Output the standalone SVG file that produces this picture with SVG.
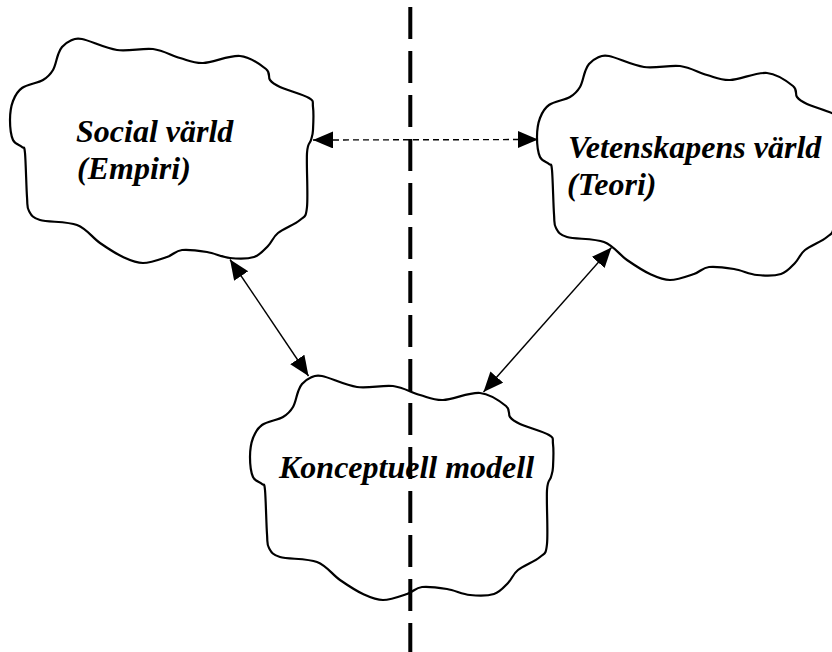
<svg xmlns="http://www.w3.org/2000/svg" xmlns:xlink="http://www.w3.org/1999/xlink" width="832" height="652" viewBox="0 0 832 652">
  <style>
    .cloud { fill: #ffffff; stroke: #000000; stroke-width: 2.2; stroke-linejoin: round; }
    .label { font-family: "Liberation Serif", "Times New Roman", serif; font-size: 32px; font-weight: bold; font-style: italic; fill: #000000; }
    .link { stroke: #000000; stroke-width: 1.4; fill: none; }
    .dashed { stroke-dasharray: 6 4; }
    .divider { stroke: #000000; stroke-width: 4; stroke-dasharray: 32 12; fill: none; }
  </style>
  <defs>
    <!-- irregular cloud outline, drawn at the top-left position -->
    <path id="cloud" d="M62,47 C64,44.7 66.7,42.3 70,41 S74.2,37.5 82,39 S105.2,48.3 117,50 S142.5,47.7 153,49 S171.7,55.7 180,58 S193,63.3 203,63 S229.5,55 240,56 S261,65 266,69 S267.7,77 270,80 S273.5,84 280,87 S303.5,94.7 309,98 S312.3,101.7 313,107 S313.3,124.5 313,130 S312,136.2 311,140 S307.7,141.8 307,153 S308.2,195.8 307,207 S304.8,215.7 300,220 S283.3,228.7 278,233 S272,242 268,246 S260.3,255 254,257 S237.8,258.8 230,258 S215,253.3 207,252 S188.7,249.2 182,250 S173.5,254.8 167,257 S150.3,263 143,263 S130.2,260.3 123,257 S107.7,248.3 100,243 S87,228.8 77,225 S48,222.3 40,220 S31.2,214.8 29,211 S27.7,206.7 27,197 S25.8,161.3 25,153 S24,149.2 22,147 S15,144.5 13,140 S10,126.5 10,120 S11,106.3 13,101 S17,91.5 22,88 S37.8,83 43,80 S50.5,74.2 53,70 S56.5,58.8 58,55 S60,49.3 62,47 Z"/>
    <marker id="head" markerUnits="userSpaceOnUse" markerWidth="21" markerHeight="18" refX="20" refY="8.5" orient="auto-start-reverse" viewBox="0 0 21 18">
      <path d="M0,0 L20,8.5 L0,17 Z" fill="#000000"/>
    </marker>
  </defs>

  <g id="social">
    <use xlink:href="#cloud" href="#cloud" class="cloud"/>
    <text class="label" x="76" y="142">Social värld</text>
    <text class="label" x="77" y="179">(Empiri)</text>
  </g>

  <g id="vetenskap">
    <use xlink:href="#cloud" href="#cloud" class="cloud" transform="translate(527,17)"/>
    <text class="label" x="568" y="158">Vetenskapens värld</text>
    <text class="label" x="567" y="195">(Teori)</text>
  </g>

  <g id="konceptuell">
    <use xlink:href="#cloud" href="#cloud" class="cloud" transform="translate(240,337)"/>
    <text class="label" x="279" y="478">Konceptuell modell</text>
  </g>

  <g id="connectors">
    <line class="link dashed" x1="313" y1="140" x2="538" y2="139.5" marker-start="url(#head)" marker-end="url(#head)"/>
    <line class="link" x1="230" y1="259.5" x2="308.5" y2="376" marker-start="url(#head)" marker-end="url(#head)"/>
    <line class="link" x1="611.5" y1="247.5" x2="483.5" y2="392" marker-start="url(#head)" marker-end="url(#head)"/>
  </g>

  <g id="divider">
    <line class="divider" x1="410.3" y1="7" x2="410.3" y2="652"/>
  </g>
</svg>
